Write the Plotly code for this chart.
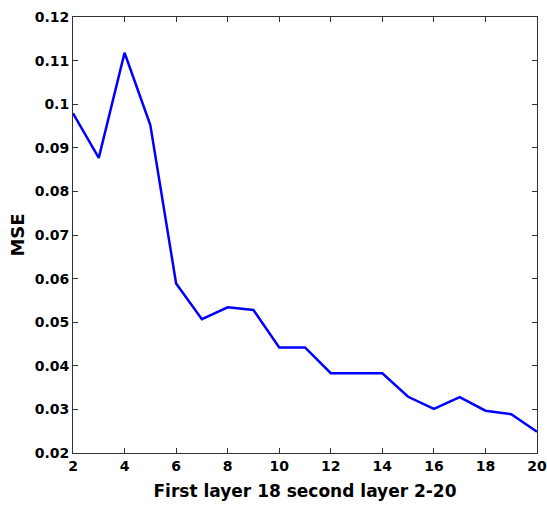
import plotly.graph_objects as go

x_vals = [2, 3, 4, 5, 6, 7, 8, 9, 10, 11, 12, 13, 14, 15, 16, 17, 18, 19, 20]
mse_vals = [0.0979, 0.0877, 0.1118, 0.0952, 0.0589, 0.0507, 0.0534, 0.0528, 0.0442, 0.0442,
            0.0383, 0.0383, 0.0383, 0.0329, 0.0301, 0.0328, 0.0297, 0.0289, 0.0249]
x_ticks = [2, 4, 6, 8, 10, 12, 14, 16, 18, 20]
y_ticks = [0.02, 0.03, 0.04, 0.05, 0.06, 0.07, 0.08, 0.09, 0.1, 0.11, 0.12]
y_tick_text = ["0.02", "0.03", "0.04", "0.05", "0.06", "0.07", "0.08", "0.09", "0.1", "0.11", "0.12"]

fig = go.Figure()
fig.add_trace(go.Scatter(x=x_vals, y=mse_vals, mode="lines",
                         line=dict(color="#0000FF", width=2.5)))

font_fam = "DejaVu Sans, Verdana, sans-serif"
fig.update_layout(
    width=547, height=511,
    margin=dict(l=73, r=10, t=17, b=58, autoexpand=False),
    paper_bgcolor="white", plot_bgcolor="white",
    showlegend=False,
    font=dict(family=font_fam, color="black"),
    xaxis=dict(
        range=[2, 20], tickvals=x_ticks, ticks="inside", ticklen=5, tickcolor="#333",
        showline=True, linecolor="#333", linewidth=1, mirror="allticks",
        showgrid=False, zeroline=False, automargin=False, ticklabeloverflow="allow",
        tickfont=dict(size=14, weight="bold", family=font_fam),
        title=dict(text="First layer 18 second layer 2-20",
                   font=dict(size=17, weight="bold", family=font_fam), standoff=12),
    ),
    yaxis=dict(
        range=[0.02, 0.12], tickvals=y_ticks, ticktext=y_tick_text, ticks="inside", ticklen=5,
        tickcolor="#333",
        showline=True, linecolor="#333", linewidth=1, mirror="allticks",
        showgrid=False, zeroline=False, automargin=False, ticklabeloverflow="allow",
        tickfont=dict(size=14, weight="bold", family=font_fam),
        title=dict(text="MSE", font=dict(size=18, weight="bold", family=font_fam), standoff=5),
    ),
)
fig.write_html(
    "out.html",
    config={"displayModeBar": False},
    post_script="document.body.style.margin='0';document.body.style.overflow='hidden';",
)
